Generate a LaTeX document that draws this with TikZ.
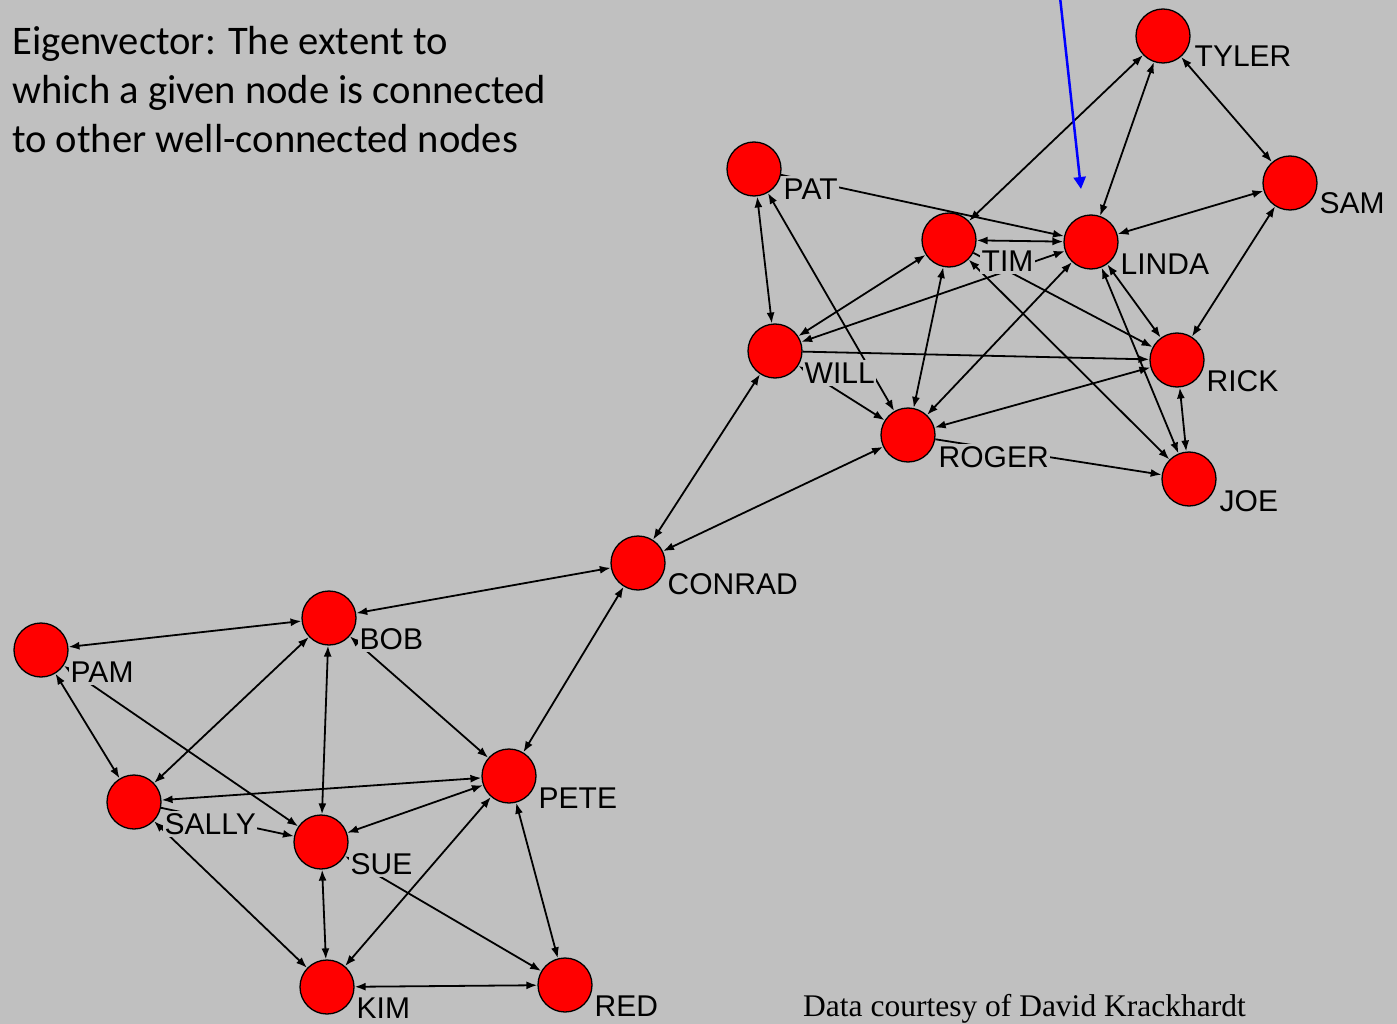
\documentclass[tikz,border=0pt]{standalone}
\usepackage{fontspec}
\usetikzlibrary{arrows.meta}
\newfontfamily\labelfont{Liberation Sans}
\newfontfamily\notefont{Carlito}
\newfontfamily\creditfont{Liberation Serif}
\definecolor{panel}{RGB}{192,192,192}
\definecolor{vertexred}{RGB}{255,0,0}
\definecolor{pointerblue}{RGB}{0,0,255}

\begin{document}
\begin{tikzpicture}[x=1pt,y=-1pt,
  vtx/.style={circle,fill=vertexred,draw=black,line width=1.3pt,minimum size=54pt,inner sep=0pt},
  lbl/.style={anchor=base west,fill=panel,inner sep=1.5pt,text height=22pt,text depth=1pt,
              font=\labelfont\fontsize{30}{30}\selectfont},
  onehead/.style={line width=1.8pt,-{Latex[length=11pt,width=8pt]}},
  twohead/.style={line width=1.8pt,{Latex[length=11pt,width=8pt]}-{Latex[length=11pt,width=8pt]}},
  notetext/.style={anchor=base west,inner sep=0pt,font=\notefont\fontsize{40.6}{40.6}\selectfont},
  pointer/.style={draw=pointerblue,line width=2.5pt,-{Triangle[length=12pt,width=12pt]}}
]
\fill[panel] (0,0) rectangle (1397,1024);
\useasboundingbox (0,0) rectangle (1397,1024);
\clip (0,0) rectangle (1397,1024);

% explanatory note
\node[notetext] (note1) at (12,55) {Eigenvector: The extent to};
\node[notetext] (note2) at (12,104) {which a given node is connected};
\node[notetext] (note3) at (12,153) {to other well-connected nodes};

% actors
\node[vtx] (tyler)  at (1163,36)  {};
\node[vtx] (sam)    at (1290,183) {};
\node[vtx] (pat)    at (754,169)  {};
\node[vtx] (tim)    at (949,240)  {};
\node[vtx] (linda)  at (1091,242) {};
\node[vtx] (will)   at (775,351)  {};
\node[vtx] (rick)   at (1177,360) {};
\node[vtx] (roger)  at (908,435)  {};
\node[vtx] (joe)    at (1189,479) {};
\node[vtx] (conrad) at (638,563)  {};
\node[vtx] (bob)    at (329,618)  {};
\node[vtx] (pam)    at (41,650)   {};
\node[vtx] (sally)  at (134,802)  {};
\node[vtx] (pete)   at (509,776)  {};
\node[vtx] (sue)    at (321,842)  {};
\node[vtx] (kim)    at (327,987)  {};
\node[vtx] (red)    at (565,985)  {};

% ties, upper group
\draw[twohead] (tim) -- (tyler);
\draw[twohead] (linda) -- (tyler);
\draw[twohead] (tyler) -- (sam);
\draw[twohead] (sam) -- (linda);
\draw[twohead] (sam) -- (rick);
\draw[onehead] (pat) -- (linda);
\draw[twohead] (tim) -- (linda);
\draw[twohead] (tim) -- (will);
\draw[twohead] (will) -- (linda);
\draw[twohead] (tim) -- (roger);
\draw[onehead] (tim) -- (rick);
\draw[twohead] (tim) -- (joe);
\draw[twohead] (linda) -- (rick);
\draw[twohead] (linda) -- (joe);
\draw[twohead] (linda) -- (roger);
\draw[twohead] (rick) -- (joe);
\draw[twohead] (rick) -- (roger);
\draw[onehead] (will) -- (rick);
\draw[twohead] (will) -- (roger);
\draw[twohead] (pat) -- (roger);
\draw[twohead] (pat) -- (will);
\draw[onehead] (roger) -- (joe);
\draw[twohead] (will) -- (conrad);
\draw[twohead] (roger) -- (conrad);

% ties, lower group
\draw[twohead] (conrad) -- (bob);
\draw[twohead] (conrad) -- (pete);
\draw[twohead] (bob) -- (pam);
\draw[twohead] (bob) -- (sally);
\draw[twohead] (bob) -- (sue);
\draw[twohead] (bob) -- (pete);
\draw[twohead] (pam) -- (sue);
\draw[twohead] (pam) -- (sally);
\draw[twohead] (sally) -- (pete);
\draw[onehead] (sally) -- (sue);
\draw[twohead] (sally) -- (kim);
\draw[twohead] (sue) -- (pete);
\draw[twohead] (sue) -- (kim);
\draw[twohead] (sue) -- (red);
\draw[twohead] (kim) -- (pete);
\draw[twohead] (pete) -- (red);
\draw[twohead] (kim) -- (red);

% names
\node[lbl] (tylerlbl)  at (1193,67)  {TYLER};
\node[lbl] (samlbl)    at (1318,214) {SAM};
\node[lbl] (patlbl)    at (782,200)  {PAT};
\node[lbl] (timlbl)    at (980,272)  {TIM};
\node[lbl] (lindalbl)  at (1119,275) {LINDA};
\node[lbl] (willlbl)   at (803,383)  {WILL};
\node[lbl] (ricklbl)   at (1205,391) {RICK};
\node[lbl] (rogerlbl)  at (937,467)  {ROGER};
\node[lbl] (joelbl)    at (1218,511) {JOE};
\node[lbl] (conradlbl) at (666,594)  {CONRAD};
\node[lbl] (boblbl)    at (358,649)  {BOB};
\node[lbl] (pamlbl)    at (69,682)   {PAM};
\node[lbl] (sallylbl)  at (163,834)  {SALLY};
\node[lbl] (petelbl)   at (537,808)  {PETE};
\node[lbl] (suelbl)    at (349,874)  {SUE};
\node[lbl] (kimlbl)    at (355,1018) {KIM};
\node[lbl] (redlbl)    at (593,1016) {RED};

% pointer
\coordinate (ptrstart) at (1060,-3);
\coordinate (ptrtip) at (1081,189);
\draw[pointer] (ptrstart) -- (ptrtip);

% source note
\node[anchor=base west,inner sep=0pt,font=\creditfont\fontsize{31.5}{31.5}\selectfont] (credit) at (803,1016) {Data courtesy of David Krackhardt};
\end{tikzpicture}
\end{document}
